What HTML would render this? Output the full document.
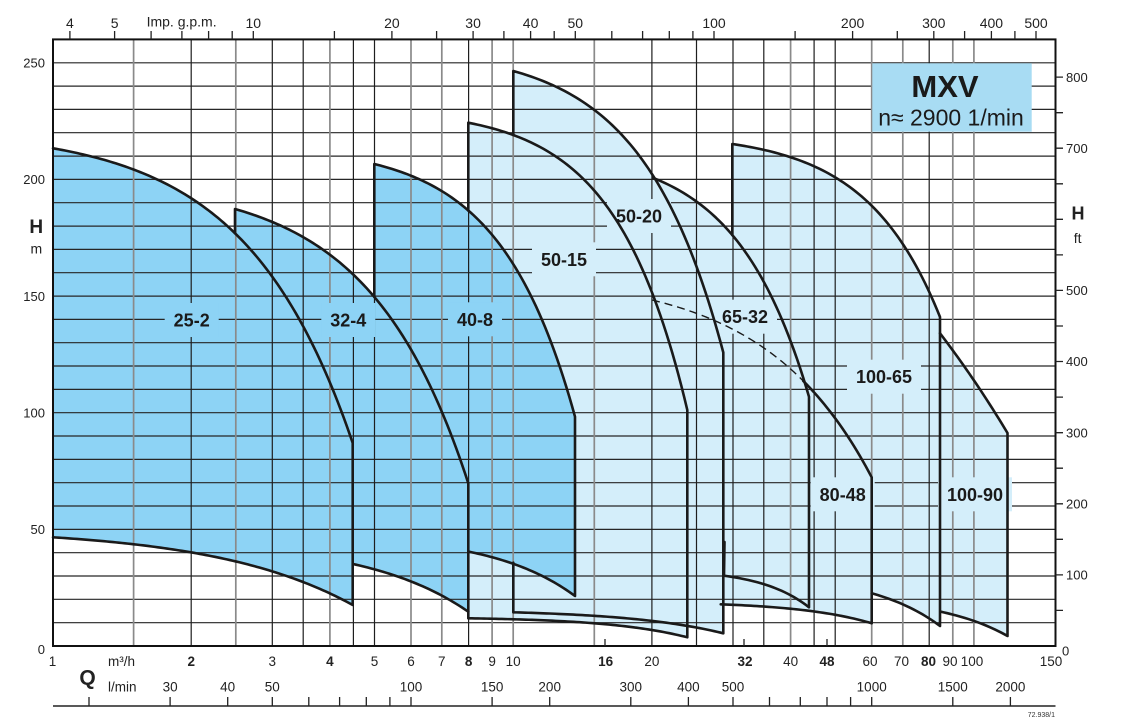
<!DOCTYPE html>
<html><head><meta charset="utf-8"><style>html,body{margin:0;padding:0;background:#fff}svg{display:block}</style></head>
<body>
<svg width="1124" height="723" viewBox="0 0 1124 723" xmlns="http://www.w3.org/2000/svg" font-family="'Liberation Sans', Arial, sans-serif">
<rect width="1124" height="723" fill="#fff"/>
<!-- light fills -->
<g fill="#d4eefa" stroke="none">
<path id="f4" d="M468.3,122.7 L493.3,128.3 L513.3,134.3 L536.7,145 L560,158.3 L593.3,185 L616.7,212 L630,242 L641,268.5 L652,300 L666.7,345 L680,386.7 L687.3,410 L687.3,637.3 L640,629.5 L593.3,622 L540,620 L469,618.3 Z"/>
<path id="f5" d="M513.3,71 L540,78.3 L560,88.3 L593.3,108.3 L623.3,137 L653.3,178 L676.7,218.3 L696.7,268.5 L712,312 L723.3,352.5 L723.3,633.3 L686.7,626.7 L651.7,620.7 L593.3,615 L513.3,612.3 Z"/>
<path id="f6" d="M653.3,178 L673,188 L696.7,202 L713,214 L730,230 L747,254 L763.3,283.3 L778,312 L790,340 L798,362 L805,383.3 L809,396.7 L809,607.3 L786.7,593.3 L766.7,585 L724,575.7 L653.3,575 Z"/>
<path id="f7" d="M652,300 L690,312 L730,330 L763,347 L790,366 L803.3,380 L818,398 L833.3,416.7 L853.3,446.7 L863,462 L871.7,477.3 L871.7,623.3 L850,617.3 L813.3,611.7 L766.7,606.7 L720.7,604.3 L653,600 Z"/>
<path id="f8" d="M732.3,144 L763.3,148.3 L790,155 L812,166 L835,180 L855,193 L872,206.7 L888,224 L903.3,245 L918,266 L930,290 L936,305 L940,317 L940,626 L926.7,616.7 L900,603.3 L871.7,593.3 L732.3,590 Z"/>
<path id="f9" d="M940,333.3 L957,355 L973.3,380 L990,405 L1007.5,433 L1007.5,636 L973.3,620.7 L940.7,611.7 Z"/>
</g>
<!-- dark fills -->
<g fill="#8dd3f5" stroke="none">
<path id="f1" d="M53,148.3 L75,152.5 L100,158.5 L134.3,171.7 L165,186.5 L191.7,203.5 L215,222 L235,240.5 L254,257.5 L273.3,276 L288.5,297 L303.3,320 L317,349 L330,380 L341.5,410.5 L352.7,443 L352.7,605 L330,591.7 L303.3,580 L273.3,571.7 L236.7,562.7 L191.7,554 L134.3,545 L53,537.3 Z"/>
<path id="f2" d="M235,209 L255,212 L273.3,218.3 L303.3,233.3 L330,253.3 L353.3,275 L373,300 L392,324.5 L410,350 L426,375 L441.7,405 L455,440 L468.3,483.3 L468.3,611.7 L441.7,596.7 L410,580 L374,569 L353,564 L235,560 Z"/>
<path id="f3" d="M374.3,164 L393,170 L410,176.7 L441.7,191.7 L468.3,208.3 L493.3,235 L513.3,265 L533.3,302 L553.3,352 L565,381 L575,416.7 L575,596 L540,576.7 L513.3,562.7 L491.7,555.7 L469,551.7 L374.3,548 Z"/>
</g>
<!-- horizontal grid -->
<path fill="none" stroke="#262626" stroke-width="1.2" d="M53,622.7H1055.5 M53,599.3H1055.5 M53,576H1055.5 M53,552.7H1055.5 M53,529.4H1055.5 M53,506H1055.5 M53,482.7H1055.5 M53,459.4H1055.5 M53,436H1055.5 M53,412.7H1055.5 M53,389.4H1055.5 M53,366H1055.5 M53,342.7H1055.5 M53,319.4H1055.5 M53,296.1H1055.5 M53,272.7H1055.5 M53,249.4H1055.5 M53,226.1H1055.5 M53,202.7H1055.5 M53,179.4H1055.5 M53,156.1H1055.5 M53,132.7H1055.5 M53,109.4H1055.5 M53,86.1H1055.5 M53,62.8H1055.5"/>
<!-- vertical grid grey -->
<path fill="none" stroke="#8a8a8a" stroke-width="1.7" d="M133.6,39.4V646 M235.8,39.4V646 M329.9,39.4V646 M411,39.4V646 M441.8,39.4V646 M492.1,39.4V646 M513.2,39.4V646 M594.3,39.4V646 M790.6,39.4V646 M871.7,39.4V646 M902.8,39.4V646 M952.8,39.4V646 M973.9,39.4V646"/>
<!-- vertical grid black -->
<path fill="none" stroke="#1e1e1e" stroke-width="1.2" d="M191.2,39.4V646 M272.3,39.4V646 M303.2,39.4V646 M353.4,39.4V646 M374.5,39.4V646 M468.6,39.4V646 M651.9,39.4V646 M696.5,39.4V646 M733,39.4V646 M763.8,39.4V646 M814.1,39.4V646 M835.2,39.4V646 M929.2,39.4V646"/>
<!-- MXV box -->
<rect x="872.3" y="63.3" width="159.4" height="68.4" fill="#a8dcf3"/>
<text x="945" y="97" font-size="31" font-weight="bold" text-anchor="middle" fill="#1a1a1a">MXV</text>
<text x="951" y="125.7" font-size="23" text-anchor="middle" fill="#1a1a1a">n≈ 2900 1/min</text>
<!-- label knockouts -->
<g stroke="none">
<rect x="164.7" y="303" width="54" height="34" fill="#8dd3f5"/>
<rect x="321.3" y="303" width="54" height="34" fill="#8dd3f5"/>
<rect x="448" y="302.3" width="54" height="34" fill="#8dd3f5"/>
<rect x="532" y="242.3" width="64" height="34" fill="#d4eefa"/>
<rect x="607" y="199" width="64" height="34" fill="#d4eefa"/>
<rect x="713" y="299.7" width="64" height="34" fill="#d4eefa"/>
<rect x="847" y="359.7" width="74" height="34" fill="#d4eefa"/>
<rect x="810.7" y="477.3" width="64" height="34" fill="#d4eefa"/>
<rect x="938" y="477.3" width="74" height="34" fill="#d4eefa"/>
</g>
<!-- outlines -->
<g fill="none" stroke="#1a1a1a" stroke-width="2.6" stroke-linejoin="round" stroke-linecap="round">
<path id="s1" d="M53,148.3 L75,152.5 L100,158.5 L134.3,171.7 L165,186.5 L191.7,203.5 L215,222 L235,240.5 L254,257.5 L273.3,276 L288.5,297 L303.3,320 L317,349 L330,380 L341.5,410.5 L352.7,443 L352.7,605 L330,591.7 L303.3,580 L273.3,571.7 L236.7,562.7 L191.7,554 L134.3,545 L53,537.3"/>
<path id="s2" d="M235,240.5 L235,209 L255,212 L273.3,218.3 L303.3,233.3 L330,253.3 L353.3,275 L373,300 L392,324.5 L410,350 L426,375 L441.7,405 L455,440 L468.3,483.3 L468.3,618.3"/>
<path id="s2b" d="M468.3,611.7 L441.7,596.7 L410,580 L374,569 L353,564"/>
<path id="s3" d="M374.3,300 L374.3,164 L393,170 L410,176.7 L441.7,191.7 L468.3,208.3 L493.3,235 L513.3,265 L533.3,302 L553.3,352 L565,381 L575,416.7 L575,596 L540,576.7 L513.3,562.7 L491.7,555.7 L469,551.7"/>
<path id="s4" d="M468.3,208.3 L468.3,122.7 L493.3,128.3 L513.3,134.3 L536.7,145 L560,158.3 L593.3,185 L616.7,212 L630,242 L641,268.5 L652,300 L666.7,345 L680,386.7 L687.3,410 L687.3,637.3 L640,629.5 L593.3,622 L540,620 L469,618.3"/>
<path id="s5" d="M513.3,134.3 L513.3,71 L540,78.3 L560,88.3 L593.3,108.3 L623.3,137 L653.3,178 L676.7,218.3 L696.7,268.5 L712,312 L723.3,352.5 L723.3,633.3 L686.7,626.7 L651.7,620.7 L593.3,615 L513.3,612.3 L513.3,562.7"/>
<path id="s6" d="M653.3,178 L673,188 L696.7,202 L713,214 L730,230 L747,254 L763.3,283.3 L778,312 L790,340 L798,362 L805,383.3 L809,396.7 L809,607.3 L786.7,593.3 L766.7,585 L724.5,575.7 L724.5,542"/>
<path id="s7" d="M803.3,380 L818,398 L833.3,416.7 L853.3,446.7 L863,462 L871.7,477.3 L871.7,623.3 L850,617.3 L813.3,611.7 L766.7,606.7 L720.7,604.3"/>
<path id="s8" d="M732.3,233 L732.3,144 L763.3,148.3 L790,155 L812,166 L835,180 L855,193 L872,206.7 L888,224 L903.3,245 L918,266 L930,290 L936,305 L940,317 L940,626 L926.7,616.7 L900,603.3 L871.7,593.3"/>
<path id="s9" d="M940,333.3 L957,355 L973.3,380 L990,405 L1007.5,433 L1007.5,636 L973.3,620.7 L940.7,611.7"/>
</g>
<path id="dsh" d="M652,300 L690,312 L730,330 L763,347 L790,366 L803.3,380" fill="none" stroke="#1a1a1a" stroke-width="1.4" stroke-dasharray="8 5"/>
<!-- curve labels -->
<g font-size="18" font-weight="bold" text-anchor="middle" fill="#1a1a1a">
<text x="191.7" y="326.5">25-2</text>
<text x="348.3" y="326.5">32-4</text>
<text x="475" y="325.8">40-8</text>
<text x="564" y="265.8">50-15</text>
<text x="639" y="222.5">50-20</text>
<text x="745" y="323.2">65-32</text>
<text x="884" y="383.2">100-65</text>
<text x="842.7" y="500.8">80-48</text>
<text x="975" y="500.8">100-90</text>
</g>
<!-- frame -->
<rect x="53" y="39.4" width="1002.5" height="606.6" fill="none" stroke="#111" stroke-width="2"/>
<!-- top ticks -->
<path fill="none" stroke="#222" stroke-width="1.3" d="M69.9,39.4V31 M114.6,39.4V31 M151.1,39.4V31 M181.9,39.4V31 M208.6,39.4V31 M232.2,39.4V31 M253.3,39.4V31 M334.4,39.4V31 M391.9,39.4V31 M436.6,39.4V31 M473.1,39.4V31 M503.9,39.4V31 M530.6,39.4V31 M554.2,39.4V31 M575.3,39.4V31 M611.8,39.4V31 M642.6,39.4V31 M669.3,39.4V31 M692.9,39.4V31 M714,39.4V31 M795.1,39.4V31 M852.6,39.4V31 M897.3,39.4V31 M933.8,39.4V31 M964.6,39.4V31 M991.4,39.4V31 M1014.9,39.4V31 M1036,39.4V31"/>
<g font-size="14" text-anchor="middle" fill="#222">
<text x="69.9" y="28.2">4</text><text x="114.6" y="28.2">5</text>
<text x="181.6" y="26.5">Imp. g.p.m.</text>
<text x="253.3" y="28.2">10</text><text x="391.9" y="28.2">20</text><text x="473.1" y="28.2">30</text>
<text x="530.6" y="28.2">40</text><text x="575.3" y="28.2">50</text><text x="714" y="28.2">100</text>
<text x="852.6" y="28.2">200</text><text x="933.8" y="28.2">300</text><text x="991.4" y="28.2">400</text><text x="1036" y="28.2">500</text>
</g>
<!-- left axis -->
<g font-size="13" text-anchor="end" fill="#222">
<text x="45" y="67.4">250</text><text x="45" y="184.1">200</text><text x="45" y="300.8">150</text>
<text x="45" y="417.4">100</text><text x="45" y="534.1">50</text><text x="45" y="654">0</text>
</g>
<text x="36.3" y="232.8" font-size="19" font-weight="bold" text-anchor="middle" fill="#222">H</text>
<text x="36.3" y="253.5" font-size="14" text-anchor="middle" fill="#222">m</text>
<!-- right axis -->
<path fill="none" stroke="#222" stroke-width="1.3" d="M1055.5,610.4H1063 M1055.5,574.9H1063 M1055.5,539.3H1063 M1055.5,503.8H1063 M1055.5,468.2H1063 M1055.5,432.7H1063 M1055.5,397.1H1063 M1055.5,361.5H1063 M1055.5,326H1063 M1055.5,290.4H1063 M1055.5,254.9H1063 M1055.5,219.3H1063 M1055.5,183.8H1063 M1055.5,148.2H1063 M1055.5,112.7H1063 M1055.5,77.1H1063"/>
<g font-size="13" text-anchor="start" fill="#222">
<text x="1066" y="81.8">800</text><text x="1066" y="152.9">700</text>
<text x="1066" y="295.1">500</text><text x="1066" y="366.2">400</text><text x="1066" y="437.4">300</text>
<text x="1066" y="508.5">200</text><text x="1066" y="579.6">100</text><text x="1062" y="655.4">0</text>
</g>
<text x="1078" y="219.5" font-size="18" font-weight="bold" text-anchor="middle" fill="#222">H</text>
<text x="1077.7" y="243" font-size="14" text-anchor="middle" fill="#222">ft</text>
<!-- bottom inner ticks -->
<path fill="none" stroke="#222" stroke-width="1.3" d="M605,646V639 M744,646V639 M827,646V639"/>
<!-- m3/h labels -->
<g font-size="13.5" text-anchor="middle" fill="#222">
<text x="52.5" y="666">1</text>
<text x="191.2" y="666" font-weight="bold">2</text>
<text x="272.3" y="666">3</text>
<text x="329.9" y="666" font-weight="bold">4</text>
<text x="374.5" y="666">5</text>
<text x="411" y="666">6</text>
<text x="441.8" y="666">7</text>
<text x="468.6" y="666" font-weight="bold">8</text>
<text x="492.1" y="666">9</text>
<text x="513.2" y="666">10</text>
<text x="605.6" y="666" font-weight="bold">16</text>
<text x="651.9" y="666">20</text>
<text x="745" y="666" font-weight="bold">32</text>
<text x="790.6" y="666">40</text>
<text x="827" y="666" font-weight="bold">48</text>
<text x="870" y="666">60</text>
<text x="901.5" y="666">70</text>
<text x="928.5" y="666" font-weight="bold">80</text>
<text x="950" y="666">90</text>
<text x="972" y="666">100</text>
<text x="1051" y="666">150</text>
</g>
<text x="108" y="666" font-size="13.5" fill="#222">m³/h</text>
<text x="108" y="691.5" font-size="13.5" fill="#222">l/min</text>
<text x="87.5" y="684.5" font-size="21" font-weight="bold" text-anchor="middle" fill="#222">Q</text>
<!-- l/min axis -->
<path fill="none" stroke="#222" stroke-width="1.5" d="M53,706H1055.5"/>
<path fill="none" stroke="#222" stroke-width="1.3" d="M89,706V697 M170.1,706V697 M227.7,706V697 M272.3,706V697 M308.8,706V697 M339.6,706V697 M366.3,706V697 M389.9,706V697 M411,706V697 M492.1,706V697 M549.7,706V697 M630.8,706V697 M688.4,706V697 M733,706V697 M769.5,706V697 M800.3,706V697 M827,706V697 M850.6,706V697 M871.7,706V697 M952.8,706V697 M1010.4,706V697"/>
<g font-size="13.5" text-anchor="middle" fill="#222">
<text x="170.1" y="691.5">30</text><text x="227.7" y="691.5">40</text><text x="272.3" y="691.5">50</text>
<text x="411" y="691.5">100</text><text x="492.1" y="691.5">150</text><text x="549.7" y="691.5">200</text>
<text x="630.8" y="691.5">300</text><text x="688.4" y="691.5">400</text><text x="733" y="691.5">500</text>
<text x="871.7" y="691.5">1000</text><text x="952.8" y="691.5">1500</text><text x="1010.4" y="691.5">2000</text>
</g>
<text x="1055" y="717" font-size="7" text-anchor="end" fill="#333">72.938/1</text>
</svg>
<script>
(function(){
function fit(pts){
  var a=pts[0],b=pts[pts.length-1];
  var x0=a[0],y0=a[1],dx=b[0]-a[0],dy=b[1]-a[1];
  function mk(s){
    if(Math.abs(s*dx)<1e-4)return function(x){return y0+dy*(x-x0)/dx;};
    var E=Math.exp(s*dx)-1;
    return function(x){return y0+dy*(Math.exp(s*(x-x0))-1)/E;};
  }
  var best=0,bestE=Infinity,s,i;
  for(s=-0.06;s<=0.06;s+=0.0002){
    var f=mk(s),e=0;
    for(i=1;i<pts.length-1;i++){var d=f(pts[i][0])-pts[i][1];e+=d*d;}
    if(e<bestE){bestE=e;best=s;}
  }
  return mk(best);
}
var D={
T1:[[53,148.3],[100,158.5],[134.3,171.7],[165,186.5],[191.7,203.5],[215,222],[235,240.5],[254,257.5],[273.3,276],[288.5,297],[303.3,320],[317,349],[330,380],[341.5,410.5],[352.7,443]],
B1:[[352.7,605],[330,591.7],[303.3,580],[273.3,571.7],[236.7,562.7],[191.7,554],[134.3,545],[53,537.3]],
T2:[[235,209],[255,212],[273.3,218.3],[303.3,233.3],[330,253.3],[353.3,275],[373,300],[392,324.5],[410,350],[426,375],[441.7,405],[455,440],[468.3,483.3]],
B2:[[468.3,611.7],[441.7,596.7],[410,580],[374,569],[353,564]],
T3:[[374.3,164],[393,170],[410,176.7],[441.7,191.7],[468.3,208.3],[493.3,235],[513.3,265],[533.3,302],[553.3,352],[565,381],[575,416.7]],
B3:[[575,596],[540,576.7],[513.3,562.7],[491.7,555.7],[469,551.7]],
T4:[[468.3,122.7],[493.3,128.3],[513.3,134.3],[536.7,145],[560,158.3],[593.3,185],[616.7,212],[630,242],[641,268.5],[652,300],[666.7,345],[680,386.7],[687.3,410]],
B4:[[687.3,637.3],[640,629.5],[593.3,622],[540,620],[469,618.3]],
T5:[[513.3,71],[540,78.3],[560,88.3],[593.3,108.3],[623.3,137],[653.3,178],[676.7,218.3],[696.7,268.5],[712,312],[723.3,352.5]],
B5:[[723.3,633.3],[686.7,626.7],[651.7,620.7],[593.3,615],[513.3,612.3]],
T6:[[653.3,178],[673,188],[696.7,202],[713,214],[730,230],[747,254],[763.3,283.3],[778,312],[790,340],[798,362],[805,383.3],[809,396.7]],
B6:[[809,607.3],[786.7,593.3],[766.7,585],[724,575.7]],
F78:[[652,300],[690,312],[730,330],[763,347],[790,366],[803.3,380],[818,398],[833.3,416.7],[853.3,446.7],[863,462],[871.7,477.3]],
B7:[[871.7,623.3],[850,617.3],[813.3,611.7],[766.7,606.7],[720.7,604.3]],
T8:[[732.3,144],[763.3,148.3],[790,155],[812,166],[835,180],[855,193],[872,206.7],[888,224],[903.3,245],[918,266],[930,290],[936,305],[940,317]],
B8:[[940,626],[926.7,616.7],[900,603.3],[871.7,593.3]],
T9:[[940,333.3],[957,355],[973.3,380],[990,405],[1007.5,433]],
B9:[[1007.5,636],[973.3,620.7],[940.7,611.7]]
};
var C={};
for(var key in D){var p=D[key];C[key]={f:fit(p),xa:p[0][0],xb:p[p.length-1][0]};}
C.D7={f:C.F78.f,xa:652,xb:803.3};
C.T7={f:C.F78.f,xa:803.3,xb:871.7};
function build(parts,close){
  var s='',first=true;
  for(var i=0;i<parts.length;i++){
    var p=parts[i],pts=[];
    if(typeof p==='string'){
      var c=C[p],n=Math.max(12,Math.round(Math.abs(c.xb-c.xa)/3));
      for(var j=0;j<=n;j++){var x=c.xa+(c.xb-c.xa)*j/n;pts.push([x,c.f(x)]);}
    } else pts=[p];
    for(var q=0;q<pts.length;q++){s+=(first?'M':'L')+pts[q][0].toFixed(2)+','+pts[q][1].toFixed(2)+' ';first=false;}
  }
  if(close)s+='Z';
  return s;
}
function set(id,parts,close){var e=document.getElementById(id);if(e)e.setAttribute('d',build(parts,close));}
try{
set('f1',['T1','B1'],true);
set('f2',['T2','B2',[235,560]],true);
set('f3',['T3','B3',[374.3,548]],true);
set('f4',['T4','B4'],true);
set('f5',['T5','B5'],true);
set('f6',['T6','B6',[653.3,575]],true);
set('f7',['F78','B7',[653,600]],true);
set('f8',['T8','B8',[732.3,590]],true);
set('f9',['T9','B9'],true);
set('s1',['T1','B1'],false);
set('s2',[[235,C.T1.f(235)],'T2',[468.3,618.3]],false);
set('s2b',['B2'],false);
set('s3',[[374.3,C.T2.f(374.3)],'T3','B3'],false);
set('s4',[[468.3,C.T3.f(468.3)],'T4','B4'],false);
set('s5',[[513.3,C.T4.f(513.3)],'T5','B5',[513.3,562.7]],false);
set('s6',['T6','B6',[724.5,542]],false);
set('s7',['T7','B7'],false);
set('dsh',['D7'],false);
set('s8',[[732.3,C.T6.f(732.3)],'T8','B8'],false);
set('s9',['T9','B9'],false);
}catch(e){}
})();
</script>
</body></html>
